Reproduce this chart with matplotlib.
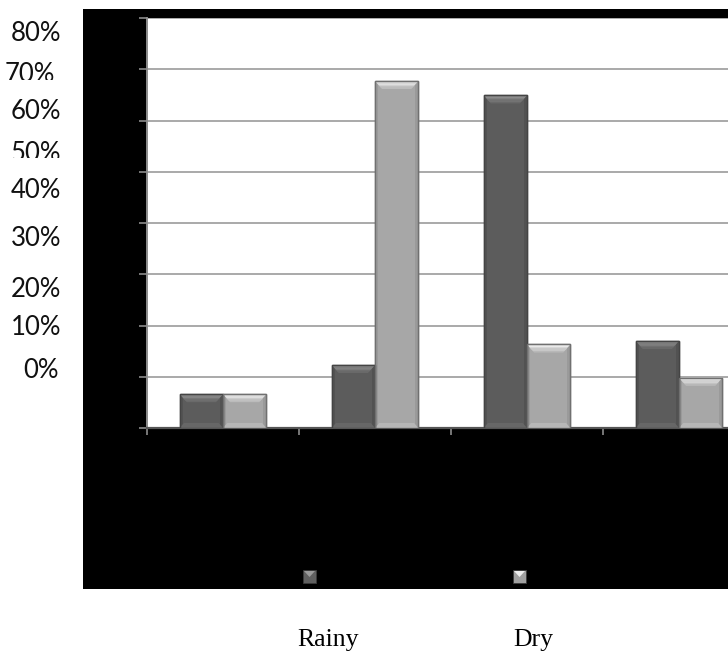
import matplotlib.pyplot as plt
import numpy as np
from matplotlib.patches import Rectangle, Polygon
from matplotlib.transforms import Bbox
from matplotlib.colors import to_rgb

# season shares per group (percent)
series = ['Rainy', 'Dry']
rainy = [6.6, 12.3, 64.9, 17.0]
dry = [6.6, 67.7, 16.3, 9.8]
ylabels = ['80%', '70%', '60%', '50%', '40%', '30%', '20%', '10%', '0%']

W, H = 728, 653
fig = plt.figure(figsize=(W / 100, H / 100), dpi=100)
fig.patch.set_facecolor('white')

def fx(px):
    return px / W

def fy(py):
    return 1 - py / H

# black chart frame, kept behind the axes
fig.patches.append(Rectangle((fx(83), fy(589)), fx(728 - 83) + 0.01, fy(9) - fy(589),
                             transform=fig.transFigure, facecolor='black',
                             edgecolor='none', zorder=-5))

ax = fig.add_axes([fx(147), fy(428), fx(755 - 147), fy(18) - fy(428)])
ax.set_zorder(1)
ax.set_facecolor('white')
ax.set_xlim(0, 4)
ax.set_ylim(0, 80)

for v in range(10, 81, 10):
    ax.axhline(v, color='#a9a9a9', lw=1.4, zorder=1)

ax.set_yticks(range(0, 81, 10))
ax.set_yticklabels([])
ax.set_xticks([0, 1, 2, 3])
ax.set_xticklabels([])
ax.tick_params(axis='y', direction='out', length=6, width=1.2, color='#8c8c8c')
ax.tick_params(axis='x', direction='out', length=5, width=1.2, color='#8c8c8c')
for s in ['top', 'right']:
    ax.spines[s].set_visible(False)
ax.spines['left'].set_color('#8c8c8c')
ax.spines['left'].set_linewidth(1.4)
ax.spines['bottom'].set_color('#555555')
ax.spines['bottom'].set_linewidth(1.6)

x = np.arange(4) + 0.5
bw = 0.285
dark_bars = ax.bar(x - bw / 2, rainy, bw, color='#5c5c5c', edgecolor='#444444', lw=1, zorder=2)
light_bars = ax.bar(x + bw / 2, dry, bw, color='#a7a7a7', edgecolor='#707070', lw=1, zorder=2)

px_x = 152.0      # pixels per category unit
px_y = 410 / 80   # pixels per percent

def mix(c1, c2, t):
    a, b = np.array(to_rgb(c1)), np.array(to_rgb(c2))
    return tuple(a + (b - a) * t)

def bevel(patch, top_col, body, side_col):
    x0, y0 = patch.get_x(), patch.get_y()
    w, h = patch.get_width(), patch.get_height()
    bx, by = 7 / px_x, 8 / px_y
    sx = 3 / px_x
    # darker side strips
    ax.add_patch(Rectangle((x0, y0), sx, h, facecolor=side_col, edgecolor='none', zorder=3))
    ax.add_patch(Rectangle((x0 + w - sx, y0), sx, h, facecolor=side_col, edgecolor='none', zorder=3))
    # lighter bottom band
    bb = 5 / px_y
    ax.add_patch(Polygon([(x0, y0), (x0 + w, y0), (x0 + w - bx * 0.6, y0 + bb),
                          (x0 + bx * 0.6, y0 + bb)], closed=True,
                         facecolor=mix(body, top_col, 0.2), edgecolor='none', zorder=3))
    # top bevel, fading from highlight to body colour
    steps = 6
    for i in range(steps):
        t0, t1 = i / steps, (i + 1) / steps
        poly = [(x0 + bx * t0, y0 + h - by * t0), (x0 + w - bx * t0, y0 + h - by * t0),
                (x0 + w - bx * t1, y0 + h - by * t1), (x0 + bx * t1, y0 + h - by * t1)]
        ax.add_patch(Polygon(poly, closed=True, facecolor=mix(top_col, body, t0 * 0.9),
                             edgecolor='none', zorder=3))
    ax.add_patch(Rectangle((x0, y0), w, h, facecolor='none',
                           edgecolor=patch.get_edgecolor(), lw=1, zorder=4))

for p in dark_bars:
    bevel(p, '#959595', '#5c5c5c', '#525252')
for p in light_bars:
    bevel(p, '#f6f6f6', '#a7a7a7', '#9a9a9a')

# percent labels along the left margin
label_right = [61, 55, 61, 61, 61, 61, 61, 61, 59]
label_base = [41, 82, 119, 161, 198, 246, 297, 335, 378]
clip_bottom = {1: 80, 3: 158}
for i, (lab, xr, yb) in enumerate(zip(ylabels, label_right, label_base)):
    t = fig.text(fx(xr), fy(yb), lab, ha='right', va='baseline',
                 fontsize=18.5, family='Lato', color='#111111')
    if i in clip_bottom:
        t.set_clip_box(Bbox.from_extents(0, H - clip_bottom[i], 80, H))
        t.set_clip_on(True)

# legend swatches on the black strip
def swatch(px0, col, hi):
    s = 13
    fig.patches.append(Rectangle((fx(px0), fy(583)), fx(s), fy(570) - fy(583),
                                 transform=fig.transFigure, facecolor=col,
                                 edgecolor='#3a3a3a', lw=0.6, zorder=2))
    fig.patches.append(Polygon([(fx(px0 + 1), fy(571)), (fx(px0 + s - 1), fy(571)),
                                (fx(px0 + s / 2), fy(577))], closed=True,
                               transform=fig.transFigure, facecolor=hi,
                               edgecolor='none', zorder=3))

swatch(303, '#606060', '#9a9a9a')
swatch(513, '#a0a0a0', '#ededed')

for name, xl in zip(series, [297, 513]):
    fig.text(fx(xl), fy(646), name, ha='left', va='baseline', fontsize=18.5,
             family='Liberation Serif', color='black')

fig.savefig('out.png', dpi=100, facecolor='white')
